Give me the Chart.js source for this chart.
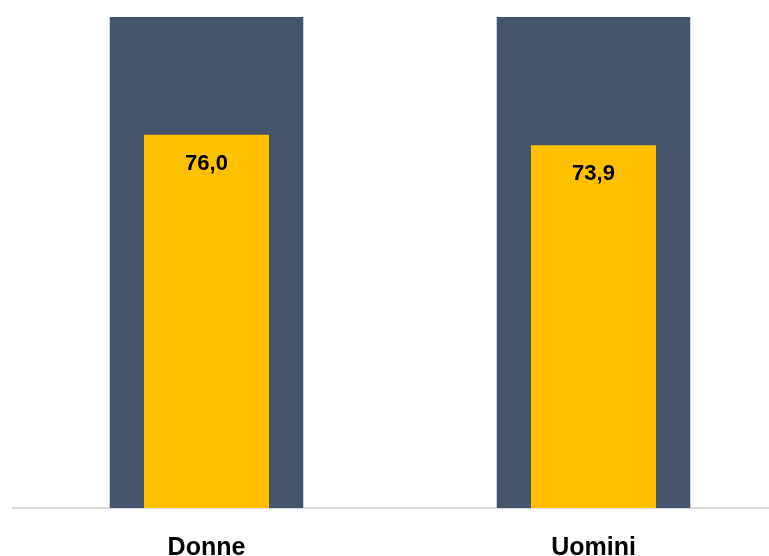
<!DOCTYPE html>
<html lang="it">
  <head>
    <meta charset="UTF-8" />
    <title>Donne / Uomini</title>
    <style>
      html, body { margin: 0; padding: 0; background: #fff; overflow: hidden; }
      #wrap { width: 790px; height: 556px; }
    </style>
  </head>
  <body>
    <div id="wrap">
      <canvas id="myChart" width="790" height="556"></canvas>
    </div>

    <script src="https://cdn.jsdelivr.net/npm/chart.js@4/dist/chart.umd.min.js"></script>
    <script>
      const categories = ["Donne", "Uomini"];
      const values = [76.0, 73.9];
      const fullScale = [100, 100];

      // value labels inside the yellow bars, italian decimal comma
      const valueLabels = {
        id: "valueLabels",
        afterDatasetsDraw(chart) {
          const ctx = chart.ctx;
          const meta = chart.getDatasetMeta(0);
          ctx.save();
          ctx.font = "bold 22px 'Liberation Sans', Arial, sans-serif";
          ctx.fillStyle = "#000";
          ctx.textAlign = "center";
          ctx.textBaseline = "middle";
          meta.data.forEach((bar, i) => {
            ctx.fillText(values[i].toFixed(1).replace(".", ","), bar.x, bar.y + 29);
          });
          ctx.restore();
        }
      };

      new Chart(document.getElementById("myChart").getContext("2d"), {
        type: "bar",
        data: {
          labels: categories,
          datasets: [
            {
              data: values,
              backgroundColor: "#FFC000",
              barPercentage: 0.323,
              categoryPercentage: 1,
              order: 1
            },
            {
              data: fullScale,
              backgroundColor: "#44546A",
              barPercentage: 0.5,
              categoryPercentage: 1,
              order: 2
            }
          ]
        },
        options: {
          responsive: false,
          animation: false,
          grouped: false,
          layout: { padding: { top: 17, left: 13, right: 3, bottom: 0 } },
          plugins: { legend: { display: false }, tooltip: { enabled: false } },
          scales: {
            x: {
              grid: { display: false, drawTicks: false },
              border: { display: true, color: "#D9D9D9", width: 2 },
              ticks: {
                color: "#000",
                padding: 28,
                font: { family: "'Liberation Sans', Arial, sans-serif", size: 25, weight: "bold", lineHeight: 1 }
              },
              afterFit(scale) { scale.height = 48; }
            },
            y: { display: false, min: 0, max: 100 }
          }
        },
        plugins: [valueLabels]
      });
    </script>
  </body>
</html>
